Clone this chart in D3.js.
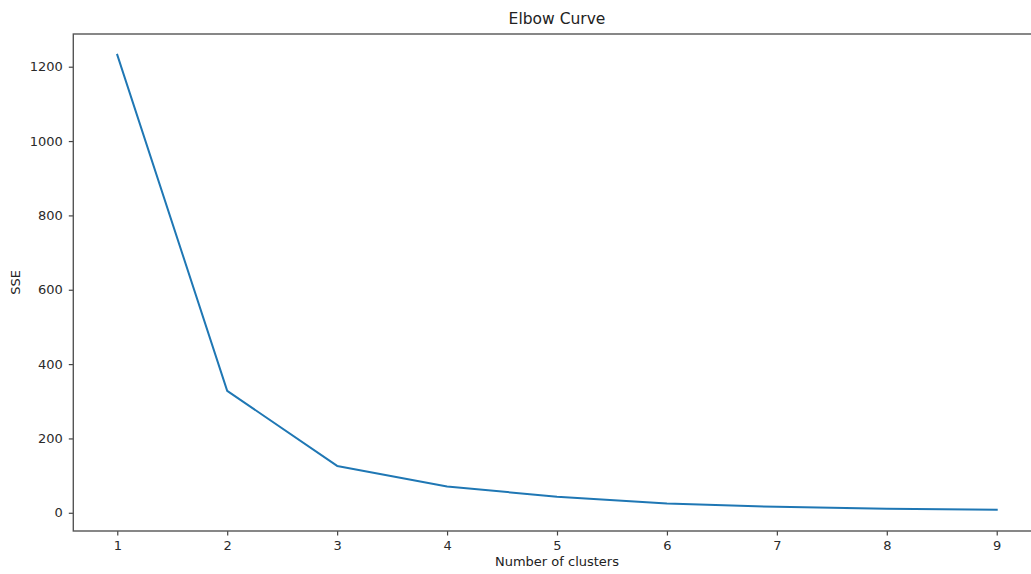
<!DOCTYPE html>
<html>
<head>
<meta charset="utf-8">
<script src="https://cdn.jsdelivr.net/npm/d3@7"></script>
<style>
  html, body { margin: 0; padding: 0; background: #fff; }
  svg { display: block; font-family: "DejaVu Sans", sans-serif; }
</style>
</head>
<body>
<svg id="chart" width="1031" height="574"></svg>
<script>
const clusters = [1, 2, 3, 4, 5, 6, 7, 8, 9];
const sse = [1232, 328, 126, 71, 43, 25, 16, 11, 8];
const xTicks = [1, 2, 3, 4, 5, 6, 7, 8, 9];
const yTicks = [0, 200, 400, 600, 800, 1000, 1200];
const title = "Elbow Curve";
const xLabel = "Number of clusters";
const yLabel = "SSE";

const svg = d3.select("#chart");
const plotLeft = 73.3, plotRight = 1040.7, plotTop = 34, plotBottom = 531;

const x = d3.scaleLinear().domain([0.6, 9.4]).range([plotLeft, plotRight]);
const y = d3.scaleLinear().domain([-49, 1288]).range([plotBottom, plotTop]);

// line
const line = d3.line().x((d, i) => x(clusters[i])).y(d => y(d));
svg.append("path")
  .datum(sse)
  .attr("d", line)
  .attr("fill", "none")
  .attr("stroke", "#1f77b4")
  .attr("stroke-width", 2)
  .attr("stroke-linejoin", "round")
  .attr("stroke-linecap", "square");

// axes
const xAxis = d3.axisBottom(x).tickValues(xTicks).tickFormat(d3.format("d")).tickSize(4.5).tickPadding(5);
const yAxis = d3.axisLeft(y).tickValues(yTicks).tickFormat(d3.format("d")).tickSize(4.5).tickPadding(6);

const gx = svg.append("g").attr("transform", `translate(0,${plotBottom})`).call(xAxis);
const gy = svg.append("g").attr("transform", `translate(${plotLeft},0)`).call(yAxis);
[gx, gy].forEach(g => {
  g.select(".domain").remove();
  g.selectAll(".tick line").attr("stroke", "#444").attr("stroke-width", 1.2);
  g.selectAll(".tick text").attr("fill", "#2a2a2a").attr("font-size", 13)
    .attr("font-family", "DejaVu Sans, sans-serif");
});

// frame
svg.append("rect")
  .attr("x", plotLeft).attr("y", plotTop)
  .attr("width", plotRight - plotLeft).attr("height", plotBottom - plotTop)
  .attr("fill", "none").attr("stroke", "#555").attr("stroke-width", 1.4);

// title & labels
svg.append("text")
  .attr("x", (plotLeft + plotRight) / 2).attr("y", 24)
  .attr("text-anchor", "middle").attr("font-size", 15.5).attr("fill", "#222")
  .text(title);
svg.append("text")
  .attr("x", (plotLeft + plotRight) / 2).attr("y", 566)
  .attr("text-anchor", "middle").attr("font-size", 13).attr("fill", "#222")
  .text(xLabel);
svg.append("text")
  .attr("transform", `translate(20,${(plotTop + plotBottom) / 2}) rotate(-90)`)
  .attr("text-anchor", "middle").attr("font-size", 13).attr("fill", "#222")
  .text(yLabel);
</script>
</body>
</html>
